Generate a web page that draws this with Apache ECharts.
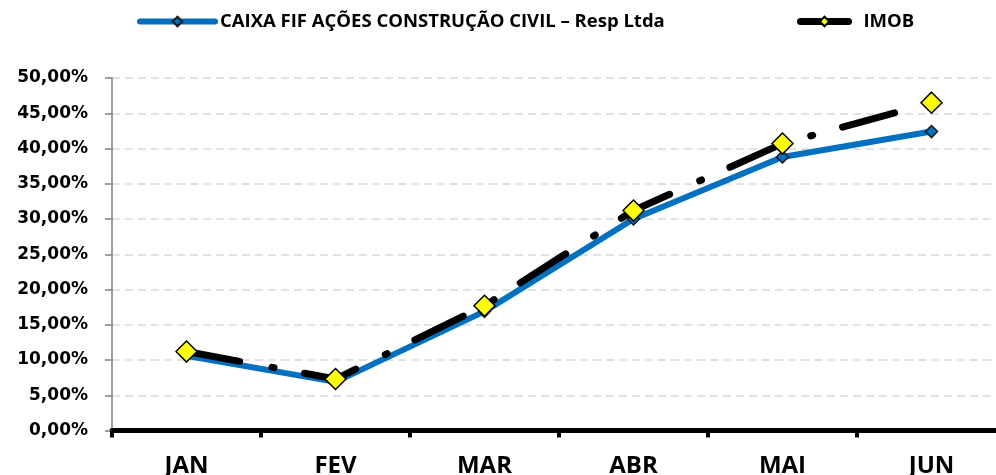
<!DOCTYPE html>
<html>
<head>
<meta charset="utf-8">
<script src="https://cdn.jsdelivr.net/npm/echarts@6/dist/echarts.min.js"></script>
<style>
  html, body { margin: 0; padding: 0; background: #fff; }
  #main { width: 996px; height: 475px; }
</style>
</head>
<body>
<div id="main"></div>
<script>
  // months and returns (in %)
  var months = ['JAN', 'FEV', 'MAR', 'ABR', 'MAI', 'JUN'];
  var caixaName = 'CAIXA FIF AÇÕES CONSTRUÇÃO CIVIL – Resp Ltda';
  var imobName = 'IMOB';
  var caixaValues = [10.6, 6.9, 16.9, 30.0, 38.8, 42.4];
  var imobValues = [11.2, 7.3, 17.7, 31.2, 40.7, 46.5];

  var textFont = "'Open Sans', sans-serif";

  var chart = echarts.init(document.getElementById('main'));

  var option = {
    animation: false,
    backgroundColor: '#fff',
    legend: [{
      left: 137,
      top: 12,
      padding: 0,
      itemWidth: 75,
      itemHeight: 12,
      data: [caixaName],
      lineStyle: { width: 6, cap: 'round' },
      textStyle: { fontFamily: textFont, fontWeight: 'bold', fontSize: 18.5, color: '#000' }
    }, {
      left: 797,
      top: 12,
      padding: 0,
      itemWidth: 48,
      itemHeight: 12,
      data: [imobName],
      lineStyle: { type: 'solid', width: 7, cap: 'round' },
      textStyle: { fontFamily: textFont, fontWeight: 'bold', fontSize: 18.5, color: '#000', padding: [0, 0, 0, 10] }
    }],
    grid: {
      left: 112,
      width: 894,
      top: 78,
      height: 352.5,
      outerBoundsMode: 'none'
    },
    xAxis: {
      type: 'category',
      data: months,
      boundaryGap: true,
      axisLine: { lineStyle: { color: '#000', width: 5 } },
      axisTick: { show: true, length: 7, lineStyle: { color: '#000', width: 4 } },
      axisLabel: {
        margin: 24,
        fontFamily: textFont,
        fontWeight: 'bold',
        fontSize: 24,
        color: '#000'
      },
      splitLine: { show: false }
    },
    yAxis: {
      type: 'value',
      min: 0,
      max: 50,
      interval: 5,
      axisLine: { show: true, lineStyle: { color: '#808080', width: 1.5 } },
      axisTick: { show: true, length: 7, lineStyle: { color: '#808080', width: 1.5 } },
      axisLabel: {
        margin: 24,
        fontFamily: 'DejaVu Sans',
        fontWeight: 'bold',
        fontSize: 17,
        color: '#000',
        formatter: function (v) { return v.toFixed(2).replace('.', ',') + '%'; }
      },
      splitLine: { lineStyle: { color: '#D9D9D9', width: 1.5, type: [8, 5] } }
    },
    series: [{
      name: caixaName,
      type: 'line',
      data: caixaValues,
      z: 2,
      symbol: 'diamond',
      symbolSize: 12,
      itemStyle: { color: '#0070C0', borderColor: '#1a1a1a', borderWidth: 1.5 },
      lineStyle: { color: '#0070C0', width: 6, join: 'round' },
      emphasis: { disabled: true }
    }, {
      name: imobName,
      type: 'line',
      data: imobValues,
      z: 3,
      symbol: 'diamond',
      symbolSize: 21,
      itemStyle: { color: '#FFFF00', borderColor: '#000', borderWidth: 1.5 },
      lineStyle: { color: '#000', width: 7, type: [54, 33, 2, 31], cap: 'round', join: 'round' },
      emphasis: { disabled: true }
    }]
  };

  chart.setOption(option);
</script>
</body>
</html>
